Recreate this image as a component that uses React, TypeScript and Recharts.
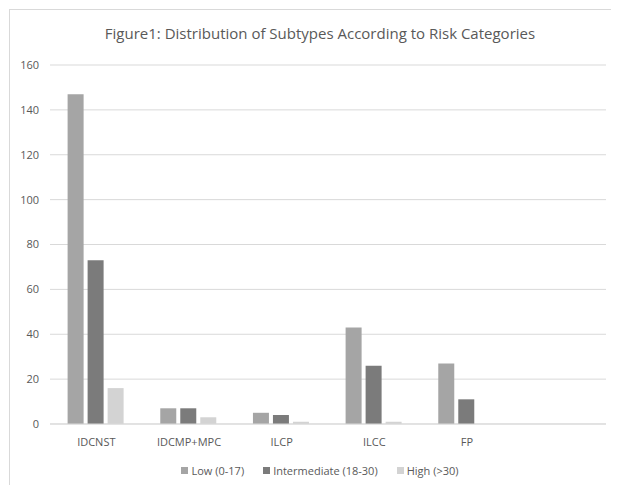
import { Bar, BarChart, CartesianGrid, XAxis, YAxis } from "recharts";

// subtypes along the x axis; the trailing blank slot keeps the empty band on the right
const SUBTYPES = ["IDCNST", "IDCMP+MPC", "ILCP", "ILCC", "FP", ""];
const LOW = [147, 7, 5, 43, 27, null];
const INTERMEDIATE = [73, 7, 4, 26, 11, null];
const HIGH = [16, 3, 1, 1, 0, null];
const Y_TICKS = [0, 20, 40, 60, 80, 100, 120, 140, 160];

const SERIES = [
  { key: "low", name: "Low (0-17)", color: "#a5a5a5" },
  { key: "intermediate", name: "Intermediate (18-30)", color: "#7b7b7b" },
  { key: "high", name: "High (>30)", color: "#d3d3d3" },
];

const FONT = "'Open Sans', 'Noto Sans', sans-serif";
const TEXT_COLOR = "#595959";
const GRID_COLOR = "#d9d9d9";

const rows = SUBTYPES.map((subtype, i) => ({
  subtype,
  low: LOW[i],
  intermediate: INTERMEDIATE[i],
  high: HIGH[i],
}));

export default function App() {
  return (
    <div
      style={{
        position: "relative",
        width: 619,
        height: 493,
        margin: -8,
        overflow: "hidden",
        background: "#fff",
        fontFamily: FONT,
      }}
    >
      <div
        style={{
          position: "absolute",
          left: 9,
          top: 9,
          width: 660,
          height: 540,
          border: `1px solid ${GRID_COLOR}`,
        }}
      />
      <div
        style={{
          position: "absolute",
          left: 0,
          top: 23,
          width: 640,
          textAlign: "center",
          fontSize: 15,
          color: TEXT_COLOR,
        }}
      >
        Figure1: Distribution of Subtypes According to Risk Categories
      </div>
      <div style={{ position: "absolute", left: 0, top: 0 }}>
        <BarChart
          width={619}
          height={493}
          data={rows}
          margin={{ top: 65, right: 13, bottom: 39, left: 0 }}
          barCategoryGap="19%"
          barGap={4}
        >
          <CartesianGrid vertical={false} stroke={GRID_COLOR} />
          <XAxis
            dataKey="subtype"
            axisLine={{ stroke: GRID_COLOR }}
            tickLine={false}
            tickMargin={8}
            interval={0}
            tick={{ fill: TEXT_COLOR, fontSize: 11, fontFamily: FONT }}
          />
          <YAxis
            width={50}
            domain={[0, 160]}
            ticks={Y_TICKS}
            axisLine={false}
            tickLine={false}
            tickSize={0}
            tickMargin={11}
            tick={{ fill: TEXT_COLOR, fontSize: 11, fontFamily: FONT }}
          />
          {SERIES.map((s) => (
            <Bar
              key={s.key}
              dataKey={s.key}
              name={s.name}
              fill={s.color}
              isAnimationActive={false}
            />
          ))}
        </BarChart>
      </div>
      <div
        style={{
          position: "absolute",
          left: 0,
          top: 463,
          width: 640,
          display: "flex",
          justifyContent: "center",
          gap: 19,
          fontSize: 11,
          color: TEXT_COLOR,
        }}
      >
        {SERIES.map((s) => (
          <span key={s.key} style={{ display: "flex", alignItems: "center" }}>
            <span
              style={{
                width: 7,
                height: 7,
                background: s.color,
                marginRight: 3,
                display: "inline-block",
              }}
            />
            {s.name}
          </span>
        ))}
      </div>
    </div>
  );
}
